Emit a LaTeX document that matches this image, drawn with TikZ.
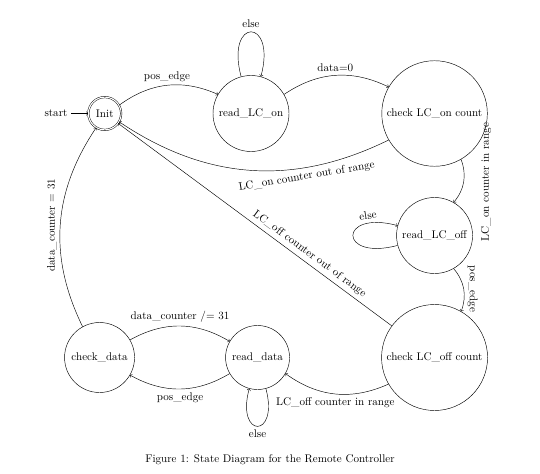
\documentclass[tikz,border=0pt]{standalone}
\usetikzlibrary{positioning}
\begin{document}
\begin{tikzpicture}[
    node distance=4cm,
    state/.style={
        circle,
        draw,
        inner sep=1pt
    },
    startstate/.style={
        state,
        double,
        double distance=1pt,
        minimum size=29.5pt
    },
    arrow/.style={
        ->,
        >=to
    }
]

\useasboundingbox (-94.3pt,-323.55pt) rectangle (391.7pt,102.15pt);

% States
\node [startstate] (init) {Init};
\node [state, minimum size=68.4pt, right of=init, node distance=131.6pt] (rlon) {read\_LC\_on};
\node [state, minimum size=95pt, right of=rlon, node distance=165.2pt] (clon) {check LC\_on count};
\node [state, minimum size=68.4pt, below of=clon, node distance=109.8pt] (rloff) {read\_LC\_off};
\node [state, minimum size=95.4pt, below of=rloff, node distance=109.8pt] (cloff) {check LC\_off count};
\node [state, minimum size=57.6pt, left of=cloff, node distance=159.3pt] (rdata) {read\_data};
\node [state, minimum size=63pt, left of=rdata, node distance=142.2pt] (cdata) {check\_data};
\node [left of=init, node distance=43.9pt] (start) {start};

% Transitions
\draw [arrow] (start) -- (init);
\draw [arrow] (init) to[bend left] node[above] {pos\_edge} (rlon);
\draw [arrow] (rlon) to[loop above] node[above] {else} (rlon);
\draw [arrow] (rlon) to[bend left] node[above] {data=0} (clon);
\draw [arrow] (clon) to[bend left] node[pos=0.3, sloped, below] {LC\_on counter out of range} (init);
\draw [arrow] (clon) to[bend left] node[midway, xshift=12pt, rotate=90, anchor=north] {LC\_on counter in range} (rloff);
\draw [arrow] (rloff) to[loop left] node[pos=0.8, sloped, above] {else} (rloff);
\draw [arrow] (rloff) to[bend left] node[midway, rotate=-90, anchor=south] {pos\_edge} (cloff);
\draw [arrow] (cloff) -- node[pos=0.32, sloped, above] {LC\_off counter out of range} (init);
\draw [arrow] (cloff) to[bend left] node[below] {LC\_off counter in range} (rdata);
\draw [arrow] (rdata) to[loop below] node[below] {else} (rdata);
\draw [arrow] (rdata) to[bend left] node[below] {pos\_edge} (cdata);
\draw [arrow] (cdata) to[bend left] node[above] {data\_counter /= 31} (rdata);
\draw [arrow] (cdata) to[bend left] node[midway, rotate=90, anchor=south] {data\_counter = 31} (init);

% Caption
\node (caption) at (148.7pt,-311.9pt) {Figure 1: State Diagram for the Remote Controller};

\end{tikzpicture}
\end{document}
